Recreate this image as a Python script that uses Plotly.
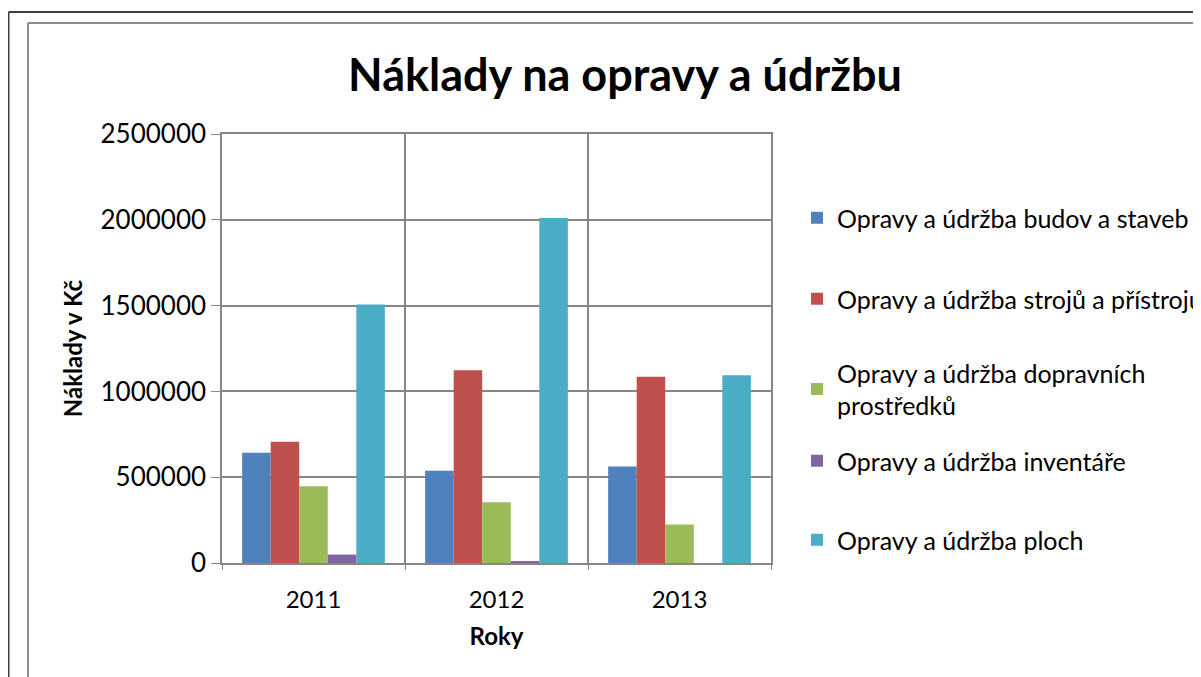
import plotly.graph_objects as go

# ---- data ----
years = ["2011", "2012", "2013"]
series_names = [
    "Opravy a údržba budov a staveb",
    "Opravy a údržba strojů a přístrojů",
    "Opravy a údržba dopravních<br>prostředků",
    "Opravy a údržba inventáře",
    "Opravy a údržba ploch",
]
budov = [643000, 538000, 563000]
stroju = [707000, 1123000, 1086000]
dopravni = [447000, 354000, 225000]
inventar = [49000, 8000, 0]
plochy = [1507000, 2010000, 1094000]
y_ticks = [0, 500000, 1000000, 1500000, 2000000, 2500000]

series_values = [budov, stroju, dopravni, inventar, plochy]
colors = ["#4F81BD", "#C0504D", "#9BBB59", "#8064A2", "#4BACC6"]

# ---- layout geometry (page pixels; the page body has an 8px margin) ----
OFF = 8
W, H = 1201 - OFF, 677 - OFF
PL, PR, PT, PB = 222 - OFF, 771 - OFF, 134 - OFF, 563 - OFF


def px(x):
    """page x pixel -> paper coordinate"""
    return (x - OFF - PL) / (PR - PL)


def py(y):
    """page y pixel -> paper coordinate"""
    return (PB - (y - OFF)) / (PB - PT)


FONT = "Lato"
GRID = "#868686"

fig = go.Figure()
legend_keys = ["legend", "legend2", "legend3", "legend4", "legend5"]
legend_y = [218, 299, 389, 461, 540]
for name, vals, col, lk in zip(series_names, series_values, colors, legend_keys):
    fig.add_trace(go.Bar(x=years, y=vals, name=name, marker=dict(color=col, line=dict(width=0)),
                         legend=lk))

layout_legends = {}
for lk, ly in zip(legend_keys, legend_y):
    layout_legends[lk] = dict(
        x=px(797), y=py(ly), xanchor="left", yanchor="middle",
        font=dict(family=FONT, size=25, color="#000000"),
        bgcolor="rgba(0,0,0,0)", borderwidth=0,
    )

fig.update_layout(
    width=W, height=H,
    margin=dict(l=PL, r=W - PR, t=PT, b=H - PB, pad=0, autoexpand=False),
    paper_bgcolor="white", plot_bgcolor="white",
    barmode="group", bargap=0.22, bargroupgap=0,
    title=dict(text="<b>Náklady na opravy a údržbu</b>", x=(625 - OFF) / W, xanchor="center",
               y=1 - (75 - OFF) / H, yanchor="middle",
               font=dict(family=FONT, size=45, color="#000000")),
    showlegend=True,
    **layout_legends,
)

fig.update_xaxes(
    type="category", tickson="boundaries", showgrid=True, gridcolor=GRID, gridwidth=1.5,
    showline=True, linecolor=GRID, linewidth=2, mirror=True,
    ticks="outside", ticklen=5, tickcolor=GRID, ticklabelstandoff=14,
    tickfont=dict(family=FONT, size=24, color="#000000"),
    title=dict(text="<b>Roky</b>", font=dict(family=FONT, size=24, color="#000000"), standoff=16),
)
fig.update_yaxes(
    range=[0, 2500000], tickvals=y_ticks, ticktext=[str(v) for v in y_ticks],
    showgrid=True, gridcolor=GRID, gridwidth=1.5, zeroline=False,
    showline=True, linecolor=GRID, linewidth=1.5, mirror=True,
    ticks="outside", ticklen=9, tickcolor=GRID,
    tickfont=dict(family=FONT, size=26, color="#000000"),
    title=dict(text="<b>Náklady v Kč</b>", font=dict(family=FONT, size=24, color="#000000"), standoff=11),
)

# chart frame lines (outer dark frame and inner gray chart-area frame), given in page pixels
fig.add_shape(type="line", xref="paper", yref="paper", x0=px(8.5), x1=px(1215), y0=py(12), y1=py(12),
              line=dict(color="#3F3F3F", width=2), layer="above")
fig.add_shape(type="line", xref="paper", yref="paper", x0=px(8.5), x1=px(8.5), y0=py(12), y1=py(700),
              line=dict(color="#3F3F3F", width=2), layer="above")
fig.add_shape(type="line", xref="paper", yref="paper", x0=px(28), x1=px(1193), y0=py(23), y1=py(23),
              line=dict(color="#8C8C8C", width=2), layer="above")
fig.add_shape(type="line", xref="paper", yref="paper", x0=px(28), x1=px(28), y0=py(23), y1=py(700),
              line=dict(color="#8C8C8C", width=2), layer="above")

fig.write_html("out.html")
